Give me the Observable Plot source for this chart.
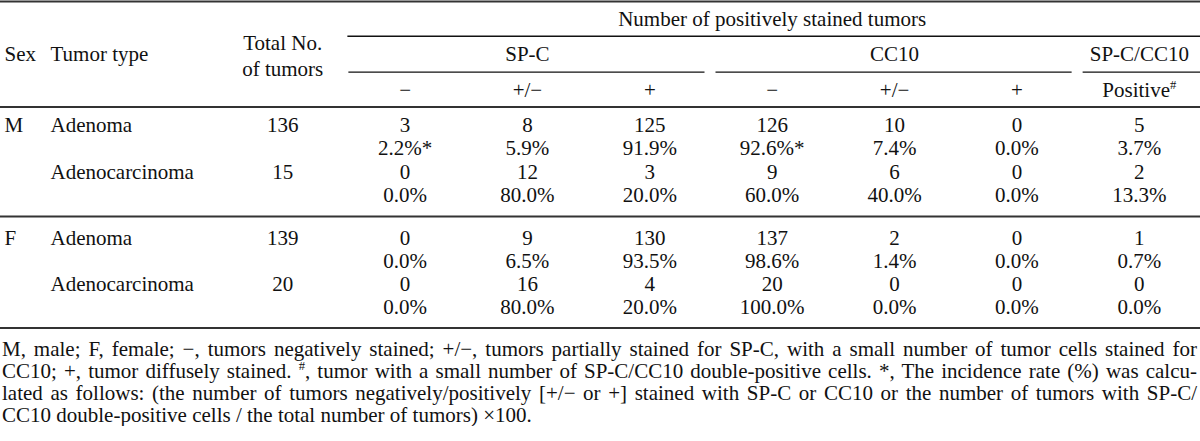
<!DOCTYPE html>
<html>
<head>
<meta charset="utf-8">
<script src="https://cdn.jsdelivr.net/npm/d3@7"></script>
<script src="https://cdn.jsdelivr.net/npm/@observablehq/plot@0.6"></script>
<style>
  html, body { margin: 0; padding: 0; background: #fff; font-family: 'Liberation Serif', serif; }
  #chart svg { display: block; }
  .j { text-align: justify; text-align-last: justify; white-space: nowrap; }
  sup { font-size: 0.6em; line-height: 0; vertical-align: 0.6em; }
</style>
</head>
<body style="font-family: 'Liberation Serif', serif;">
<div id="chart"></div>
<div id="fn" style="font-family: 'Liberation Serif', serif; font-size: 21px; line-height: 22px; color: #111; margin: 2px 3px 0 2px; width: 1195px;">
  <div class="j">M, male; F, female; −, tumors negatively stained; +/−, tumors partially stained for SP-C, with a small number of tumor cells stained for</div>
  <div class="j">CC10; +, tumor diffusely stained. <sup>#</sup>, tumor with a small number of SP-C/CC10 double-positive cells. *, The incidence rate (%) was calcu-</div>
  <div class="j">lated as follows: (the number of tumors negatively/positively [+/− or +] stained with SP-C or CC10 or the number of tumors with SP-C/</div>
  <div>CC10 double-positive cells / the total number of tumors) ×100.</div>
</div>
<script>
// ---------------- data ----------------
const sexes = ["M", "M", "F", "F"];
const tumorTypes = ["Adenoma", "Adenocarcinoma", "Adenoma", "Adenocarcinoma"];
const totals = [136, 15, 139, 20];

const columnKeys = ["spcNeg", "spcPart", "spcPos", "ccNeg", "ccPart", "ccPos", "dblPos"];
const subLabels = ["−", "+/−", "+", "−", "+/−", "+", "Positive#"];
const groupLabels = ["SP-C", "CC10", "SP-C/CC10"];
const groupFirstCol = ["spcNeg", "ccNeg", "dblPos"];
const groupLastCol = ["spcPos", "ccPos", "dblPos"];

const spcNegCounts = [3, 0, 0, 0];
const spcNegPct = [2.2, 0.0, 0.0, 0.0];
const spcPartCounts = [8, 12, 9, 16];
const spcPartPct = [5.9, 80.0, 6.5, 80.0];
const spcPosCounts = [125, 3, 130, 4];
const spcPosPct = [91.9, 20.0, 93.5, 20.0];
const ccNegCounts = [126, 9, 137, 20];
const ccNegPct = [92.6, 60.0, 98.6, 100.0];
const ccPartCounts = [10, 6, 2, 0];
const ccPartPct = [7.4, 40.0, 1.4, 0.0];
const ccPosCounts = [0, 0, 0, 0];
const ccPosPct = [0.0, 0.0, 0.0, 0.0];
const dblPosCounts = [5, 2, 1, 0];
const dblPosPct = [3.7, 13.3, 0.7, 0.0];
const starred = ["spcNeg:0", "ccNeg:0"]; // column:row with "*" footnote mark

const headerTitle = "Number of positively stained tumors";
const headerSex = "Sex";
const headerType = "Tumor type";
const headerTotal = "Total No.\nof tumors";

// ---------------- table assembly ----------------
const countsByCol = {
  spcNeg: spcNegCounts, spcPart: spcPartCounts, spcPos: spcPosCounts,
  ccNeg: ccNegCounts, ccPart: ccPartCounts, ccPos: ccPosCounts, dblPos: dblPosCounts
};
const pctByCol = {
  spcNeg: spcNegPct, spcPart: spcPartPct, spcPos: spcPosPct,
  ccNeg: ccNegPct, ccPart: ccPartPct, ccPos: ccPosPct, dblPos: dblPosPct
};
const colIndex = k => columnKeys.indexOf(k) + 1;

// layout in "body line" units
const L = {top: -5.35, title: -4.56, rule1: -3.85, group: -3.05, rule2: -2.3, sub: -1.53, rule3: -0.8, blockGap: 0.85, bottomPad: 0.88};
const lineOf = (r, s) => r * 2 + s + Math.floor(r / 2) * L.blockGap;
const midRule = (lineOf(1, 1) + lineOf(2, 0)) / 2;
const bottomRule = lineOf(3, 1) + L.bottomPad;

const cells = [];
sexes.forEach((sx, r) => {
  columnKeys.forEach(k => {
    cells.push({x: colIndex(k), y: lineOf(r, 0), text: String(countsByCol[k][r])});
    const mark = starred.includes(k + ":" + r) ? "*" : "";
    cells.push({x: colIndex(k), y: lineOf(r, 1), text: pctByCol[k][r].toFixed(1) + "%" + mark});
  });
});
const rowHeads = sexes.map((sx, r) => ({sex: sx, type: tumorTypes[r], total: String(totals[r]), y: lineOf(r, 0)}));
const groups = groupLabels.map((g, i) => ({label: g, start: colIndex(groupFirstCol[i]), end: colIndex(groupLastCol[i]), last: i === groupLabels.length - 1}));

const H = 336, unit = 23.2, firstLineY = 125;
const fs = 21;
const ff = "Liberation Serif";
const ink = "#111";
const ruleInk = "#333";
const T = {fontSize: fs, fontFamily: ff, fill: ink};

const chart = Plot.plot({
  width: 1200,
  height: H,
  marginLeft: 221, marginRight: 0, marginTop: 0, marginBottom: 0,
  style: "font-family: 'Liberation Serif', serif; font-size: 21px; background: #fff;",
  x: {domain: [-0.5, 7.5], axis: null},
  y: {domain: [-firstLineY / unit, (H - firstLineY) / unit], reverse: true, axis: null},
  marks: [
    Plot.ruleY([L.top, L.rule3, midRule, bottomRule], {insetLeft: -221, stroke: ruleInk, strokeWidth: 2}),
    Plot.ruleY([L.rule1], {x1: groups[0].start - 0.5, x2: groups[groups.length - 1].end + 0.5, insetLeft: 4, stroke: ink, strokeWidth: 1.4}),
    Plot.ruleY(groups.filter(g => !g.last), {y: L.rule2, x1: g => g.start - 0.5, x2: g => g.end + 0.5, insetLeft: 5, insetRight: 6, stroke: ink, strokeWidth: 1.4}),
    Plot.ruleY(groups.filter(g => g.last), {y: L.rule2, x1: g => g.start - 0.5, x2: g => g.end + 0.5, insetLeft: 5, insetRight: 0, stroke: ink, strokeWidth: 1.4}),
    Plot.text([headerTitle], {x: (groups[0].start + groups[groups.length - 1].end) / 2, y: L.title, text: d => d, ...T}),
    Plot.text(groups, {x: g => (g.start + g.end) / 2, y: L.group, text: "label", ...T}),
    Plot.text(subLabels, {x: (d, i) => i + 1, y: L.sub, text: d => d, ...T}),
    Plot.text([headerTotal], {x: 0, y: L.group, text: d => d, lineHeight: 1.24, ...T}),
    Plot.text([headerSex], {frameAnchor: "left", y: L.group, text: d => d, textAnchor: "start", dx: -217, ...T}),
    Plot.text([headerType], {frameAnchor: "left", y: L.group, text: d => d, textAnchor: "start", dx: -171, ...T}),
    Plot.text(rowHeads.filter((d, i) => i % 2 === 0), {frameAnchor: "left", y: "y", text: "sex", textAnchor: "start", dx: -217, ...T}),
    Plot.text(rowHeads, {frameAnchor: "left", y: "y", text: "type", textAnchor: "start", dx: -171, ...T}),
    Plot.text(rowHeads, {x: 0, y: "y", text: "total", ...T}),
    Plot.text(cells, {x: "x", y: "y", text: "text", ...T})
  ]
});

d3.select(chart).selectAll("text").filter(function() { return this.textContent === "Positive#"; })
  .each(function() {
    const t = d3.select(this);
    t.text("Positive");
    t.append("tspan").attr("font-size", "0.6em").attr("dy", "-0.6em").text("#");
  });

document.getElementById("chart").appendChild(chart);
</script>
</body>
</html>
